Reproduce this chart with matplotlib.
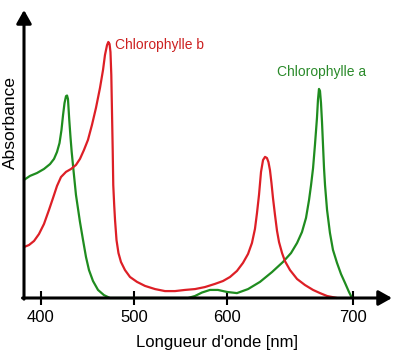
import numpy as np
import matplotlib
matplotlib.use('Agg')
import matplotlib.pyplot as plt

plt.rcParams['font.family'] = ['Liberation Sans', 'DejaVu Sans']

# Chlorophylle a (green)
wl_a = [381.7, 388.2, 395.7, 403.2, 409.7, 414.0, 417.2, 419.9, 422.0, 423.7,
        425.3, 426.9, 428.0, 429.0, 430.4, 431.7, 433.0, 434.7, 437.6, 441.9,
        445.2, 448.4, 451.6, 455.9, 461.3, 467.7, 474.2, 558.1, 565.6, 573.1,
        581.7, 590.3, 600.0, 607.9, 616.7, 626.2, 635.7, 644.4, 650.8, 655.6,
        659.5, 662.7, 665.1, 666.7, 668.3, 669.8, 671.4, 672.2, 673.0, 673.8,
        674.6, 675.4, 676.2, 677.0, 677.8, 679.4, 681.7, 684.1, 687.3, 690.5,
        693.7, 696.8, 699.2]
abs_a = [0.410, 0.424, 0.434, 0.448, 0.465, 0.483, 0.507, 0.538, 0.583, 0.635,
         0.677, 0.701, 0.703, 0.691, 0.618, 0.559, 0.507, 0.451, 0.358, 0.264,
         0.201, 0.142, 0.097, 0.059, 0.028, 0.010, 0.000, 0.000, 0.007, 0.019,
         0.028, 0.028, 0.021, 0.017, 0.031, 0.056, 0.090, 0.125, 0.156, 0.191,
         0.229, 0.278, 0.340, 0.392, 0.451, 0.531, 0.625, 0.688, 0.726, 0.719,
         0.677, 0.611, 0.531, 0.451, 0.392, 0.306, 0.226, 0.167, 0.122, 0.083,
         0.052, 0.021, 0.000]

# Chlorophylle b (red)
wl_b = [381.7, 387.1, 392.5, 397.8, 403.2, 408.6, 412.9, 417.2, 421.5, 426.9,
        432.3, 437.6, 441.9, 446.2, 450.5, 454.8, 459.1, 463.4, 466.7, 468.8,
        471.0, 472.4, 473.7, 474.7, 475.6, 476.3, 477.1, 477.7, 478.7, 479.6,
        481.2, 483.3, 486.0, 490.3, 495.7, 503.2, 511.8, 522.6, 533.3, 544.1,
        554.8, 565.6, 576.3, 587.1, 595.7, 602.4, 607.9, 612.7, 616.7, 619.8,
        622.2, 623.8, 625.4, 627.0, 628.6, 630.2, 631.7, 632.9, 634.1, 635.3,
        636.5, 638.1, 639.7, 641.3, 643.7, 646.0, 650.0, 655.6, 661.9, 668.3,
        673.8, 679.4, 687.3]
abs_b = [0.177, 0.184, 0.198, 0.222, 0.257, 0.306, 0.347, 0.389, 0.420, 0.438,
         0.448, 0.462, 0.483, 0.514, 0.549, 0.601, 0.660, 0.729, 0.792, 0.844,
         0.878, 0.889, 0.882, 0.854, 0.774, 0.653, 0.514, 0.392, 0.323, 0.271,
         0.201, 0.156, 0.125, 0.097, 0.073, 0.056, 0.042, 0.031, 0.024, 0.024,
         0.028, 0.031, 0.038, 0.049, 0.059, 0.073, 0.094, 0.122, 0.153, 0.191,
         0.240, 0.295, 0.358, 0.438, 0.479, 0.490, 0.486, 0.472, 0.444, 0.399,
         0.347, 0.288, 0.233, 0.194, 0.156, 0.128, 0.097, 0.066, 0.045, 0.028,
         0.017, 0.007, 0.000]

tick_wl = [400, 500, 600, 700]
tick_labels = ['400', '500', '600', '700']
label_a = 'Chlorophylle a'
label_b = 'Chlorophylle b'
xlabel = "Longueur d'onde [nm]"
ylabel = 'Absorbance'

green = '#1f8c1f'
red = '#dd1f26'

# the reference axis is drawn with uneven tick spacing -> piecewise-linear scale
knot_wl = np.array([300, 400, 500, 600, 700, 800], dtype=float)
knot_u = np.array([-52, 41, 134, 227, 353, 479], dtype=float)

def fwd(w):
    return np.interp(w, knot_wl, knot_u)

def inv(u):
    return np.interp(u, knot_u, knot_wl)

W, H = 397, 358
fig = plt.figure(figsize=(W / 100, H / 100), dpi=100)
ax = fig.add_axes([24 / W, (H - 298) / H, (392 - 24) / W, (298 - 10) / H])
ax.set_xscale('function', functions=(fwd, inv))
ax.set_xlim(float(inv(24)), float(inv(392)))
ax.set_ylim(0, 1)

ax.plot(wl_a, abs_a, color=green, lw=1.6, clip_on=False,
        solid_joinstyle='round', solid_capstyle='round')
ax.plot(wl_b, abs_b, color=red, lw=1.6, clip_on=False,
        solid_joinstyle='round', solid_capstyle='round')

for s in ax.spines.values():
    s.set_visible(False)

arrow = dict(arrowstyle='-|>,head_length=0.8,head_width=0.45', lw=2.2,
             color='black', shrinkA=0, shrinkB=0)
ax.annotate('', xy=(0, 1), xytext=(0, -0.004), xycoords='axes fraction',
            arrowprops=arrow, annotation_clip=False)
ax.annotate('', xy=(1, 0), xytext=(-0.004, 0), xycoords='axes fraction',
            arrowprops=arrow, annotation_clip=False)

ax.set_xticks(tick_wl)
ax.set_xticklabels(tick_labels, fontsize=12)
ax.tick_params(axis='x', direction='inout', length=10, width=1.5, pad=3.5)
ax.set_yticks([])
ax.xaxis.set_minor_locator(matplotlib.ticker.NullLocator())

ax.text(479.6, 0.878, label_b, color='#cc2020', fontsize=10, ha='left', va='center')
ax.text(675.4, 0.785, label_a, color='#2a8a2a', fontsize=10, ha='center', va='center')

fig.text(217 / W, 1 - 343 / H, xlabel, fontsize=12, ha='center', va='center')
fig.text(10 / W, 1 - 123 / H, ylabel, fontsize=12.5, ha='center', va='center',
         rotation=90)

fig.savefig('out.png', dpi=100)
